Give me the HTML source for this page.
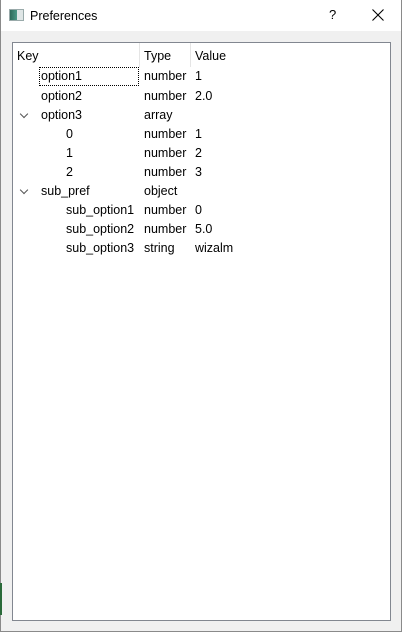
<!DOCTYPE html>
<html><head><meta charset="utf-8"><style>
*{margin:0;padding:0;box-sizing:border-box}
html,body{width:402px;height:632px;overflow:hidden;background:#f0f0f0}
body{position:relative;font-family:"Liberation Sans","Noto Sans CJK SC",sans-serif;font-size:12.5px;color:#000}
.win{position:absolute;left:0;top:0;width:402px;height:632px;border:1px solid #8a8a8a;border-top:none}
.title{position:absolute;left:0;top:0;width:402px;height:31px;background:#fff}
.t{position:absolute;white-space:nowrap;line-height:16px}
.tree{position:absolute;left:12px;top:42px;width:379px;height:579px;background:#fff;border:1px solid #828790}
.div{position:absolute;top:43px;width:1px;height:24px;background:#e5e5e5}
.chev{position:absolute;width:6px;height:6px;border-right:1px solid #555;border-bottom:1px solid #555;transform:rotate(45deg)}
</style></head><body>
<div class="title"></div>
<div style="position:absolute;left:9px;top:9px;width:15px;height:12px;border:1px solid #9aa;background:linear-gradient(90deg,#2d6b5a 0,#4c9a88 55%,#dfe6e6 55%)"></div>
<div class="t" style="left:30px;top:8px;font-size:12.5px">Preferences</div>
<div class="t" style="left:329px;top:7px;font-size:13px">?</div>
<svg style="position:absolute;left:372px;top:9px" width="12" height="12"><path d="M0.5 0.5L11.5 11.5M11.5 0.5L0.5 11.5" stroke="#000" stroke-width="1.1"/></svg>
<div class="win"></div>
<div style="position:absolute;left:0;top:583px;width:2px;height:32px;background:#2a6a3a"></div>
<div class="tree"></div>
<div class="div" style="left:139px"></div>
<div class="div" style="left:190px"></div>
<div class="t" style="left:17px;top:48px">Key</div>
<div class="t" style="left:144px;top:48px">Type</div>
<div class="t" style="left:195px;top:48px">Value</div>
<div style="position:absolute;left:39px;top:67px;width:100px;height:19px;border:1px dotted #000"></div>

<div class="t" style="left:41px;top:68px">option1</div><div class="t" style="left:144px;top:68px">number</div><div class="t" style="left:195px;top:68px">1</div>
<div class="t" style="left:41px;top:88px">option2</div><div class="t" style="left:144px;top:88px">number</div><div class="t" style="left:195px;top:88px">2.0</div>
<div class="chev" style="left:21px;top:111px"></div>
<div class="t" style="left:41px;top:107px">option3</div><div class="t" style="left:144px;top:107px">array</div>
<div class="t" style="left:66px;top:126px">0</div><div class="t" style="left:144px;top:126px">number</div><div class="t" style="left:195px;top:126px">1</div>
<div class="t" style="left:66px;top:145px">1</div><div class="t" style="left:144px;top:145px">number</div><div class="t" style="left:195px;top:145px">2</div>
<div class="t" style="left:66px;top:164px">2</div><div class="t" style="left:144px;top:164px">number</div><div class="t" style="left:195px;top:164px">3</div>
<div class="chev" style="left:21px;top:187px"></div>
<div class="t" style="left:41px;top:183px">sub_pref</div><div class="t" style="left:144px;top:183px">object</div>
<div class="t" style="left:66px;top:202px">sub_option1</div><div class="t" style="left:144px;top:202px">number</div><div class="t" style="left:195px;top:202px">0</div>
<div class="t" style="left:66px;top:221px">sub_option2</div><div class="t" style="left:144px;top:221px">number</div><div class="t" style="left:195px;top:221px">5.0</div>
<div class="t" style="left:66px;top:240px">sub_option3</div><div class="t" style="left:144px;top:240px">string</div><div class="t" style="left:195px;top:240px">wizalm</div>
</body></html>
